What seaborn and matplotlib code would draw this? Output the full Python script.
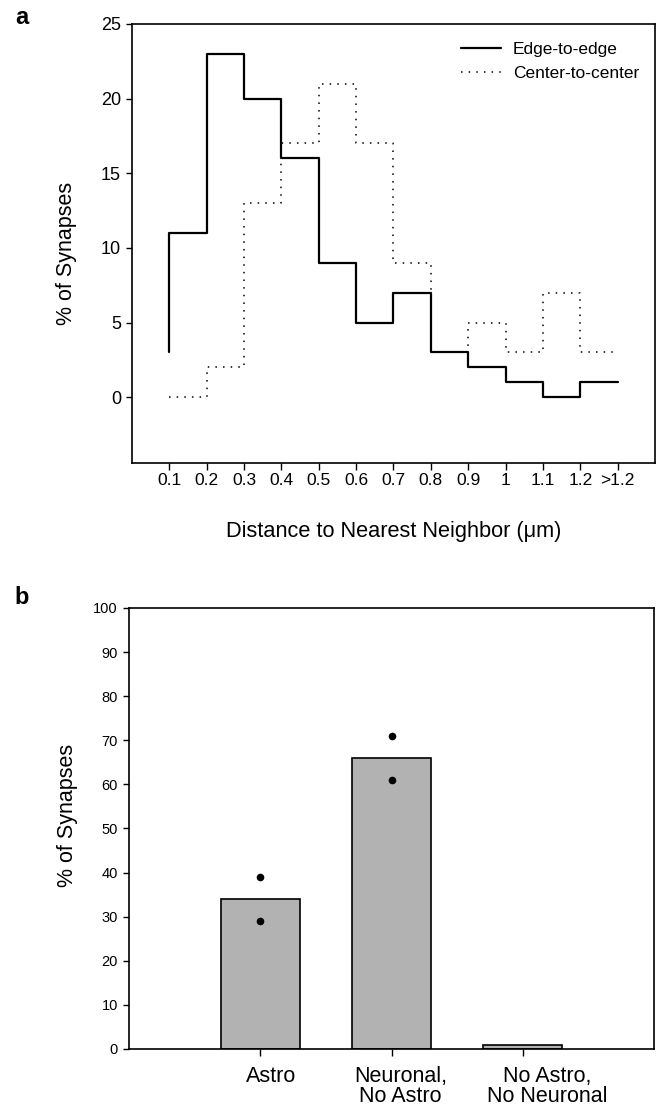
import numpy as np
import matplotlib
matplotlib.use("Agg")
import matplotlib.pyplot as plt
import matplotlib.transforms as mtransforms
import seaborn as sns

sns.set_theme(style="ticks")
plt.rcParams["font.family"] = ["Liberation Sans", "DejaVu Sans"]
plt.rcParams.update({"text.color": "black", "axes.labelcolor": "black",
                     "xtick.color": "black", "ytick.color": "black"})

# ------------------------------------------------------------------
# data
# ------------------------------------------------------------------
# panel a - nearest neighbour distance histogram (step lines)
dist_labels = ["0.1", "0.2", "0.3", "0.4", "0.5", "0.6", "0.7",
               "0.8", "0.9", "1", "1.1", "1.2", ">1.2"]
edge_to_edge = [3, 11, 23, 20, 16, 9, 5, 7, 3, 2, 1, 0, 1]
center_to_center = [0, 0, 2, 13, 17, 21, 17, 9, 3, 5, 3, 7, 3]

# panel b - synapse categories
groups = ["Astro", "Neuronal,\nNo Astro", "No Astro,\nNo Neuronal"]
group_pct = [34, 66, 1]
dot_groups = ["Astro", "Astro", "Neuronal,\nNo Astro", "Neuronal,\nNo Astro"]
dot_pct = [39, 29, 71, 61]

# ------------------------------------------------------------------
# figure
# ------------------------------------------------------------------
fig = plt.figure(figsize=(6.59, 11.05), dpi=100)
ax1 = fig.add_axes([0.2003, 0.581, 0.7936, 0.3973])
ax2 = fig.add_axes([0.1958, 0.0507, 0.7967, 0.3991])

for ax in (ax1, ax2):
    for s in ax.spines.values():
        s.set_color("black")
        s.set_linewidth(1.2)
    ax.tick_params(colors="black", direction="out", width=1)

# ---- a ----
pos = np.arange(len(dist_labels))
sns.lineplot(x=pos, y=edge_to_edge, ax=ax1, drawstyle="steps-pre",
             color="black", lw=1.6, estimator=None, sort=False,
             label="Edge-to-edge")
sns.lineplot(x=pos, y=center_to_center, ax=ax1, drawstyle="steps-pre",
             color="black", lw=1.1, linestyle=(0, (1, 4)),
             estimator=None, sort=False, label="Center-to-center")

ax1.set_xlim(-1, 13)
ax1.set_ylim(-4.4, 25)
ax1.set_yticks(range(0, 26, 5))
ax1.set_xticks(pos)
ax1.set_xticklabels(dist_labels)
ax1.tick_params(axis="x", length=5, pad=2, labelsize=12.5)
ax1.tick_params(axis="y", length=4, pad=4, labelsize=13)
ax1.set_xlabel("Distance to Nearest Neighbor (\u03bcm)", fontsize=15.7, va="top")
ax1.set_ylabel("% of Synapses", fontsize=15.5)
ax1.xaxis.set_label_coords(0.5, -0.132)
ax1.yaxis.set_label_coords(-0.105, 0.478)
ax1.legend(loc="upper right", bbox_to_anchor=(1.0, 0.995), frameon=False,
           fontsize=12.5, handlelength=2.3, handletextpad=0.7,
           labelspacing=0.5)

# ---- b ----
sns.barplot(x=groups, y=group_pct, ax=ax2, color="#b2b2b2", saturation=1,
            edgecolor="black", linewidth=1.2, width=0.6)
sns.stripplot(x=dot_groups, y=dot_pct, ax=ax2, order=groups, color="black",
              size=5.5, jitter=False, zorder=3)

ax2.set_xlim(-1, 3)
ax2.set_ylim(0, 100)
ax2.set_yticks(range(0, 101, 10))
ax2.set_xticks(range(len(groups)))
ax2.set_xticklabels(groups, linespacing=0.95)
ax2.tick_params(axis="x", length=5, pad=7, labelsize=15.5)
ax2.tick_params(axis="y", length=4, pad=4, labelsize=10.5)
ax2.set_xlabel("")
ax2.set_ylabel("% of Synapses", fontsize=15.5)
ax2.yaxis.set_label_coords(-0.097, 0.53)

# tick labels in the original sit a little right of their ticks
for lbl, dx in zip(ax2.get_xticklabels(), [11, 9, 24]):
    lbl.set_transform(lbl.get_transform() +
                      mtransforms.ScaledTranslation(dx / 100, 0, fig.dpi_scale_trans))

fig.text(22 / 659, 1 - 17 / 1105, "a", fontsize=17, fontweight="bold",
         ha="center", va="center")
fig.text(22 / 659, 1 - 597 / 1105, "b", fontsize=17, fontweight="bold",
         ha="center", va="center")

fig.savefig("out.png", dpi=100)
